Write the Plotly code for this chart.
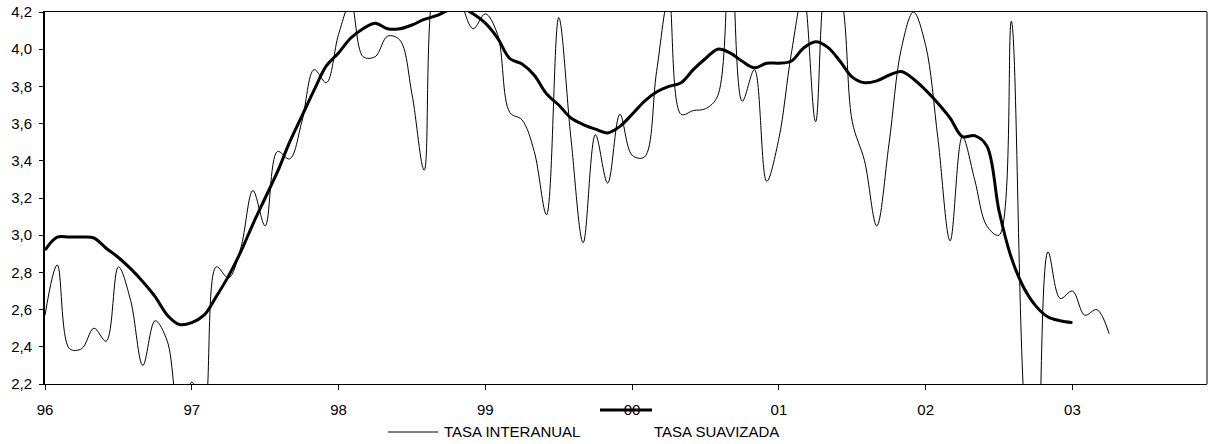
import plotly.graph_objects as go

# ---- data (monthly, starting January 1996) ----
year_labels = ["96", "97", "98", "99", "00", "01", "02", "03"]

tasa_interanual = [
    2.57, 2.84, 2.39, 2.39, 2.50, 2.43, 2.83, 2.65, 2.30, 2.54, 2.43, 2.00,
    2.21, 2.05, 2.83, 2.77, 2.93, 3.24, 3.05, 3.45, 3.41, 3.61, 3.89, 3.82,
    4.08, 4.25, 3.96, 3.96, 4.07, 4.05, 3.76, 3.35, 4.40, 4.45, 4.26, 4.11,
    4.19, 4.08, 3.66, 3.62, 3.45, 3.11, 4.17, 3.52, 2.96, 3.54, 3.28, 3.65,
    3.43, 3.42, 3.88, 4.28, 3.65, 3.67, 3.68, 3.75, 4.80, 3.72, 3.89, 3.29,
    3.52, 3.97, 4.30, 3.61, 4.40, 4.30, 3.61, 3.40, 3.05, 3.49, 4.00, 4.20,
    4.02, 3.52, 2.97, 3.53, 3.30, 3.05, 3.00, 4.15, 2.15, 1.30, 2.91, 2.66,
    2.70, 2.57, 2.60, 2.47,
]

tasa_suavizada = [
    2.92, 2.99, 2.99, 2.99, 2.985, 2.93, 2.88, 2.82, 2.75, 2.67, 2.57, 2.52,
    2.53, 2.57, 2.67, 2.78, 2.91, 3.06, 3.20, 3.34, 3.50, 3.64, 3.78, 3.91,
    3.98, 4.06, 4.11, 4.14, 4.11, 4.11, 4.13, 4.16, 4.18, 4.21, 4.225, 4.19,
    4.14, 4.06, 3.95, 3.92, 3.86, 3.76, 3.70, 3.63, 3.595, 3.57, 3.55, 3.585,
    3.65, 3.72, 3.77, 3.80, 3.82, 3.89, 3.95, 4.00, 3.98, 3.935, 3.90, 3.925,
    3.925, 3.935, 4.005, 4.04, 4.01, 3.935, 3.85, 3.82, 3.83, 3.86, 3.88, 3.84,
    3.78, 3.71, 3.63, 3.53, 3.535, 3.48, 3.13, 2.88, 2.72, 2.62, 2.56, 2.54,
    2.53,
]

y_ticks = [2.2, 2.4, 2.6, 2.8, 3.0, 3.2, 3.4, 3.6, 3.8, 4.0, 4.2]

# month index (0 = Jan 96)
months_int = list(range(len(tasa_interanual)))
months_sua = list(range(len(tasa_suavizada)))
year_ticks = [12 * i for i in range(len(year_labels))]

# ---- layout constants (pixels) ----
W, H = 1208, 444
ML, MR, MT, MB = 45, 1, 12, 60
PW, PH = W - ML - MR, H - MT - MB

def px(x):
    return (x - ML) / PW

def py(y):
    return (H - MB - y) / PH

FONT = "Liberation Sans, Arial, sans-serif"

fig = go.Figure()
fig.add_trace(go.Scatter(
    x=months_int, y=tasa_interanual, mode="lines", name="TASA INTERANUAL",
    line=dict(color="black", width=1, shape="spline", smoothing=1.0),
    showlegend=False,
))
fig.add_trace(go.Scatter(
    x=months_sua, y=tasa_suavizada, mode="lines", name="TASA SUAVIZADA",
    line=dict(color="black", width=3, shape="spline", smoothing=1.0),
    showlegend=False,
))

fig.update_layout(
    width=W, height=H,
    margin=dict(l=ML, r=MR, t=MT, b=MB, pad=0),
    paper_bgcolor="white", plot_bgcolor="white",
    separators=",.",
    font=dict(family=FONT, size=15, color="black"),
    xaxis=dict(
        range=[0, 95], tickvals=year_ticks, ticktext=year_labels,
        showgrid=False, zeroline=False,
        showline=True, linecolor="black", linewidth=1, mirror=True,
        ticks="outside", ticklen=5, tickcolor="black", tickwidth=1,
        ticklabelstandoff=7,
    ),
    yaxis=dict(
        range=[2.2, 4.2], tickvals=y_ticks, tickformat=".1f",
        showgrid=False, zeroline=False,
        showline=True, linecolor="black", linewidth=2,
        ticks="outside", ticklen=4, tickcolor="black", tickwidth=1,
        ticklabelstandoff=4,
    ),
    shapes=[
        dict(type="line", xref="paper", yref="paper", x0=1, x1=1, y0=0, y1=1,
             line=dict(color="black", width=1)),
        dict(type="line", xref="paper", yref="paper",
             x0=px(388), x1=px(438), y0=py(432), y1=py(432),
             line=dict(color="black", width=1)),
        dict(type="line", xref="paper", yref="paper",
             x0=px(600), x1=px(652), y0=py(410), y1=py(410),
             line=dict(color="black", width=3)),
    ],
    annotations=[
        dict(text="TASA INTERANUAL", xref="paper", yref="paper",
             x=px(442), y=py(432), xanchor="left", yanchor="middle",
             showarrow=False, font=dict(family=FONT, size=15, color="black")),
        dict(text="TASA SUAVIZADA", xref="paper", yref="paper",
             x=px(652), y=py(432), xanchor="left", yanchor="middle",
             showarrow=False, font=dict(family=FONT, size=15, color="black")),
    ],
)

fig.write_html(
    "out.html",
    config={"displayModeBar": False, "staticPlot": True},
    post_script="document.body.style.margin='0px';document.body.style.overflow='hidden';",
)
